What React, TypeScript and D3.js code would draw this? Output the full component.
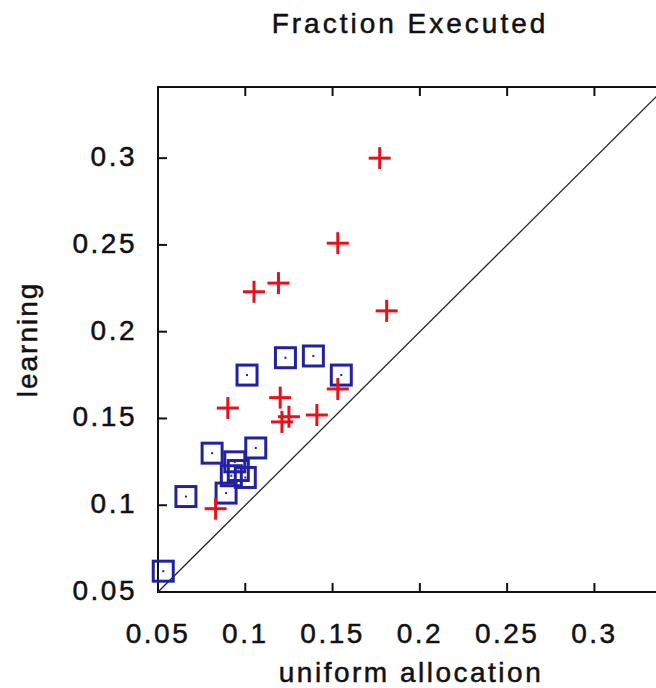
import React from 'react';
import * as d3 from 'd3';

// Fraction executed: uniform allocation (x) vs learning (y)
const plusX = [0.177, 0.153, 0.105, 0.119, 0.181, 0.09, 0.12, 0.125, 0.121, 0.141, 0.153, 0.083];
const plusY = [0.3, 0.251, 0.223, 0.228, 0.212, 0.156, 0.162, 0.151, 0.148, 0.152, 0.167, 0.098];

const squareX = [0.101, 0.123, 0.139, 0.155, 0.081, 0.106, 0.094, 0.092, 0.1, 0.096, 0.089, 0.066, 0.053];
const squareY = [0.175, 0.185, 0.186, 0.175, 0.13, 0.133, 0.125, 0.117, 0.116, 0.12, 0.107, 0.105, 0.062];

const tickValues = [0.05, 0.1, 0.15, 0.2, 0.25, 0.3];
const tickLabels = ['0.05', '0.1', '0.15', '0.2', '0.25', '0.3'];
const axisDomain = [0.05, 0.341];

const width = 656;
const height = 688;
const font = '"Liberation Sans", Arial, sans-serif';

const App = () => {
  const left = 158;
  const right = 666;
  const top = 87;
  const bottom = 592;

  const x = d3.scaleLinear().domain(axisDomain).range([left, right]);
  const y = d3.scaleLinear().domain(axisDomain).range([bottom, top]);

  const tickLen = 9;
  const plusHalf = 11;
  const sq = 20;

  // text drawn slightly heavier, like the blurred original
  const txt = { fontFamily: font, fontSize: 28, fill: '#111', stroke: '#111', strokeWidth: 0.5 };

  return (
    <svg width={width} height={height} style={{ position: 'absolute', left: 0, top: 0, background: 'white' }}>
      {/* title */}
      <text x={410} y={33} textAnchor="middle" letterSpacing={3} {...txt}>
        Fraction Executed
      </text>

      {/* frame */}
      <rect x={left} y={top} width={right - left} height={bottom - top} fill="none" stroke="#111" strokeWidth={2} />

      {/* ticks + labels */}
      {tickValues.map((v, i) => (
        <g key={'t' + i}>
          <line x1={x(v)} x2={x(v)} y1={bottom} y2={bottom - tickLen} stroke="#111" strokeWidth={2} />
          <line x1={x(v)} x2={x(v)} y1={top} y2={top + tickLen} stroke="#111" strokeWidth={2} />
          <line x1={left} x2={left + tickLen} y1={y(v)} y2={y(v)} stroke="#111" strokeWidth={2} />
          <line x1={right} x2={right - tickLen} y1={y(v)} y2={y(v)} stroke="#111" strokeWidth={2} />
          <text x={x(v)} y={643} textAnchor="middle" letterSpacing={2.5} {...txt}>
            {tickLabels[i]}
          </text>
          <text x={137} y={y(v) + 8} textAnchor="end" letterSpacing={2.5} {...txt}>
            {tickLabels[i]}
          </text>
        </g>
      ))}

      {/* axis titles */}
      <text x={411} y={682} textAnchor="middle" letterSpacing={2.5} {...txt}>
        uniform allocation
      </text>
      <text
        transform={`translate(37, ${(top + bottom) / 2}) rotate(-90)`}
        textAnchor="middle"
        letterSpacing={2}
        {...txt}
      >
        learning
      </text>

      {/* diagonal */}
      <line x1={x(axisDomain[0])} y1={y(axisDomain[0])} x2={x(axisDomain[1])} y2={y(axisDomain[1])} stroke="#222" strokeWidth={1.3} />

      {/* blue squares */}
      {squareX.map((v, i) => (
        <g key={'s' + i}>
          <rect x={x(v) - sq / 2} y={y(squareY[i]) - sq / 2} width={sq} height={sq} fill="none" stroke="#2222a0" strokeWidth={3} />
          <rect x={x(v) - 1} y={y(squareY[i]) - 1} width={2} height={2} fill="#2222a0" />
        </g>
      ))}

      {/* red pluses */}
      {plusX.map((v, i) => (
        <g key={'p' + i} stroke="#e8101a" strokeWidth={3}>
          <line x1={x(v) - plusHalf} x2={x(v) + plusHalf} y1={y(plusY[i])} y2={y(plusY[i])} />
          <line x1={x(v)} x2={x(v)} y1={y(plusY[i]) - plusHalf} y2={y(plusY[i]) + plusHalf} />
        </g>
      ))}
    </svg>
  );
};

export default App;
